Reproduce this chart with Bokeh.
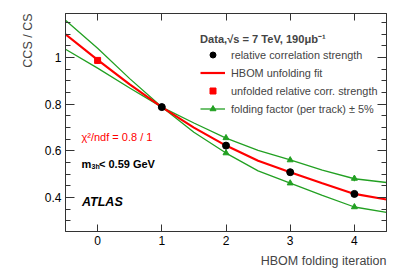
import numpy as np
from bokeh.plotting import figure
from bokeh.models import (LinearAxis, FixedTicker, Label, Legend, LegendItem,
                          ColumnDataSource, Title)
from bokeh.embed import file_html
from bokeh.resources import INLINE

# ---------------- data ----------------
curve_x = [-0.5, 0.0, 0.5, 1.0, 1.5, 2.0, 2.5, 3.0, 3.5, 4.0, 4.5]
fit_y = [1.100, 0.990, 0.885, 0.788, 0.700, 0.623, 0.558, 0.509, 0.462, 0.416, 0.392]
fold_plus_y = [1.036, 0.955, 0.870, 0.788, 0.720, 0.655, 0.603, 0.562, 0.518, 0.481, 0.465]
fold_minus_y = [1.160, 1.040, 0.910, 0.788, 0.680, 0.591, 0.515, 0.462, 0.410, 0.360, 0.337]

tri_x = [2, 3, 4]
tri_plus_y = [0.656, 0.561, 0.482]
tri_plus_err = [0.004, 0.004, 0.012]
tri_minus_y = [0.591, 0.462, 0.360]
tri_minus_err = [0.004, 0.004, 0.004]

data_x = [1, 2, 3, 4]
data_y = [0.788, 0.623, 0.509, 0.416]
data_err = [0.014, 0.006, 0.006, 0.006]

unf_x = [0]
unf_y = [0.988]
unf_err = [0.013]

x_ticks = [0, 1, 2, 3, 4]
y_ticks = [0.4, 0.6, 0.8, 1.0]
y_tick_labels = ["0.4", "0.6", "0.8", "1"]

legend_title = "Data,\u221As = 7 TeV, 190\u03bcb\u207b\u00b9"
legend_labels = ["relative correlation strength", "HBOM unfolding fit",
                 "unfolded relative corr. strength", "folding factor (per track) \u00b1 5%"]

FONT = "Liberation Sans"
AX = "#333333"
GREEN = "#22a022"
RED = "#ff0000"

# ---------------- figure ----------------
p = figure(width=407, height=276, x_range=(-0.5, 4.5), y_range=(0.255, 1.189),
           output_backend="svg", toolbar_location=None,
           min_border_left=65, min_border_right=21, min_border_top=13, min_border_bottom=45,
           background_fill_color="white", border_fill_color="white")
p.grid.visible = False
p.outline_line_color = AX
p.outline_line_width = 1

y_minor = list(np.round(np.arange(0.25, 1.2, 0.05), 3))

def style_axis(ax, ticks, minor, labels=True, overrides=None):
    ax.ticker = FixedTicker(ticks=ticks, minor_ticks=minor)
    ax.axis_line_color = AX
    ax.major_tick_line_color = AX
    ax.minor_tick_line_color = AX
    ax.major_tick_in = 9 if minor else 7
    ax.major_tick_out = 0
    ax.minor_tick_in = 5
    ax.minor_tick_out = 0
    if labels:
        ax.major_label_text_font = FONT
        ax.major_label_text_font_size = "12px"
        ax.major_label_text_color = "black"
        ax.major_label_standoff = 4
        if overrides:
            ax.major_label_overrides = overrides
    else:
        ax.major_label_overrides = {t: "" for t in ticks}
        ax.major_label_text_font_size = "1px"
        ax.major_label_standoff = 0

style_axis(p.xaxis[0], x_ticks, [])
style_axis(p.yaxis[0], y_ticks, y_minor, overrides=dict(zip(y_ticks, y_tick_labels)))
p.yaxis[0].major_label_orientation = "horizontal"

ax_r = LinearAxis()
style_axis(ax_r, y_ticks, y_minor, labels=False)
p.add_layout(ax_r, "right")
ax_t = LinearAxis()
style_axis(ax_t, x_ticks, [], labels=False)
p.add_layout(ax_t, "above")

# axis titles
p.add_layout(Title(text="HBOM folding iteration", align="right", text_font=FONT,
                   text_font_size="12.5px", text_font_style="normal", standoff=9), "below")
p.add_layout(Title(text="CCS / CS", align="right", text_font=FONT,
                   text_font_size="12.5px", text_font_style="normal", standoff=14), "left")

# ---------------- glyphs ----------------
g_minus = p.line(curve_x, fold_minus_y, line_color=GREEN, line_width=1.3)
g_plus = p.line(curve_x, fold_plus_y, line_color=GREEN, line_width=1.3)
r_fit = p.line(curve_x, fit_y, line_color=RED, line_width=2.2)

tri_src = ColumnDataSource(dict(x=tri_x + tri_x,
                                y=tri_plus_y + tri_minus_y,
                                lo=[a - b for a, b in zip(tri_plus_y, tri_plus_err)] +
                                   [a - b for a, b in zip(tri_minus_y, tri_minus_err)],
                                hi=[a + b for a, b in zip(tri_plus_y, tri_plus_err)] +
                                   [a + b for a, b in zip(tri_minus_y, tri_minus_err)]))
p.segment(x0="x", y0="lo", x1="x", y1="hi", source=tri_src, line_color=GREEN, line_width=1.3)
r_tri = p.scatter(x="x", y="y", source=tri_src, marker="triangle", size=6,
                  fill_color=GREEN, line_color=GREEN)

d_src = ColumnDataSource(dict(x=data_x, y=data_y,
                              lo=[a - b for a, b in zip(data_y, data_err)],
                              hi=[a + b for a, b in zip(data_y, data_err)]))
p.segment(x0="x", y0="lo", x1="x", y1="hi", source=d_src, line_color="#2040ff", line_width=1.5)
r_data = p.scatter(x="x", y="y", source=d_src, marker="circle", size=7,
                   fill_color="black", line_color="black")

u_src = ColumnDataSource(dict(x=unf_x, y=unf_y,
                              lo=[a - b for a, b in zip(unf_y, unf_err)],
                              hi=[a + b for a, b in zip(unf_y, unf_err)]))
p.segment(x0="x", y0="lo", x1="x", y1="hi", source=u_src, line_color=RED, line_width=1.5)
r_unf = p.scatter(x="x", y="y", source=u_src, marker="square", size=6,
                  fill_color=RED, line_color=RED)

# ---------------- legend ----------------
legend = Legend(items=[
    LegendItem(label=legend_labels[0], renderers=[r_data]),
    LegendItem(label=legend_labels[1], renderers=[r_fit]),
    LegendItem(label=legend_labels[2], renderers=[r_unf]),
    LegendItem(label=legend_labels[3], renderers=[g_plus, r_tri]),
], location=(135, 115))
legend.title = legend_title
legend.title_text_font = FONT
legend.title_text_font_size = "11.1px"
legend.title_text_font_style = "bold"
legend.title_standoff = 1
legend.label_text_font = FONT
legend.label_text_font_size = "10.9px"
legend.label_height = 15
legend.glyph_height = 15
legend.glyph_width = 25
legend.spacing = 3
legend.label_standoff = 6
legend.padding = 0
legend.margin = 0
legend.border_line_color = None
legend.background_fill_alpha = 0
p.add_layout(legend)

# ---------------- texts ----------------
def lab(text, x, y, size, color="black", style="normal"):
    p.add_layout(Label(x=x, y=y, x_units="screen", y_units="screen", text=text,
                       text_font=FONT, text_font_size=size, text_color=color,
                       text_font_style=style, text_align="left", text_baseline="middle"))

lab("\u03c7\u00b2/ndf = 0.8 / 1", 16, 95, "11px", color=RED)
lab("m", 16, 68, "11px", style="bold")
lab("3h", 26, 65, "7px", style="bold")
lab("< 0.59 GeV", 33.5, 68, "11px", style="bold")
lab("ATLAS", 16.5, 30, "12.5px", style="bold italic")

open("out.html", "w").write(file_html(p, INLINE))
